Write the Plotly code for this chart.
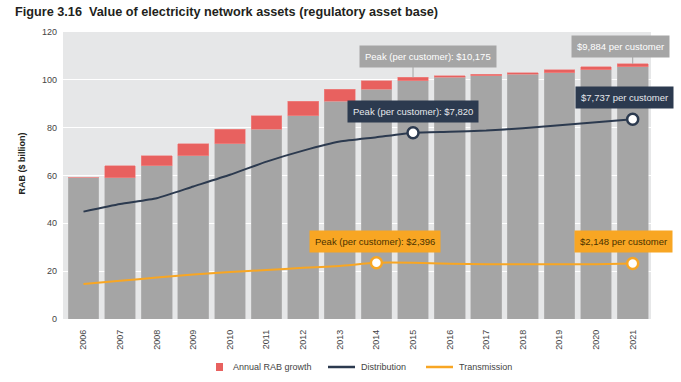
import plotly.graph_objects as go

years = ["2006", "2007", "2008", "2009", "2010", "2011", "2012", "2013",
         "2014", "2015", "2016", "2017", "2018", "2019", "2020", "2021"]
rab_base = [59.1, 59.1, 64.0, 68.2, 73.2, 79.4, 84.9, 91.1,
            96.1, 99.7, 101.0, 101.7, 102.4, 102.9, 104.2, 105.4]
rab_growth = [0.0, 4.9, 4.2, 5.0, 6.2, 5.5, 6.2, 5.0,
              3.6, 1.3, 0.7, 0.7, 0.5, 1.3, 1.2, 1.3]
distribution = [44.9, 48.1, 50.5, 55.4, 60.3, 65.8, 70.4, 74.2,
                76.0, 77.9, 78.3, 78.8, 79.8, 81.0, 82.3, 83.5]
transmission = [14.6, 16.0, 17.3, 18.6, 19.6, 20.5, 21.4, 22.2,
                23.5, 23.5, 23.1, 22.9, 22.9, 22.9, 22.9, 23.2]
y_ticks = [0, 20, 40, 60, 80, 100, 120]

rab_peak_year, rab_last_year = "2015", "2021"
dist_peak_year, dist_last_year = "2015", "2021"
trans_peak_year, trans_last_year = "2014", "2021"
rab_labels = ["Peak (per customer): $10,175", "$9,884 per customer"]
dist_labels = ["Peak (per customer): $7,820", "$7,737 per customer"]
trans_labels = ["Peak (per customer): $2,396", "$2,148 per customer"]
legend_names = ["Annual RAB growth", "Distribution", "Transmission"]

GREY = "#a5a5a5"
RED = "#e8615f"
NAVY = "#2c3a4f"
ORANGE = "#f8a623"
BG = "#e6e7e8"
FONT = "Liberation Sans, Arial, sans-serif"

W, H = 681, 382
ML, MR, MT, MB = 63, 30, 32, 63
PW, PH = W - ML - MR, H - MT - MB


def px(x):
    return (x - ML) / PW


def py(y):
    return (H - MB - y) / PH


fig = go.Figure()
fig.add_trace(go.Bar(x=years, y=rab_base, marker=dict(color=GREY, line=dict(color="#b8b8b8", width=0.6)),
                     showlegend=False, hoverinfo="skip"))
fig.add_trace(go.Bar(x=years, y=rab_growth, name=legend_names[0], showlegend=False,
                     marker=dict(color=RED, line=dict(color="#ee8a88", width=0.6))))
fig.add_trace(go.Scatter(x=years, y=distribution, mode="lines", name=legend_names[1], showlegend=False,
                         line=dict(color=NAVY, width=2, shape="spline", smoothing=0.5)))
fig.add_trace(go.Scatter(x=years, y=transmission, mode="lines", name=legend_names[2], showlegend=False,
                         line=dict(color=ORANGE, width=2, shape="spline", smoothing=0.5)))

di = [years.index(dist_peak_year), years.index(dist_last_year)]
ti = [years.index(trans_peak_year), years.index(trans_last_year)]
ri = [years.index(rab_peak_year), years.index(rab_last_year)]
fig.add_trace(go.Scatter(x=[years[i] for i in di], y=[distribution[i] for i in di], mode="markers",
                         marker=dict(size=11, color="white", line=dict(color=NAVY, width=2.5)),
                         showlegend=False))
fig.add_trace(go.Scatter(x=[years[i] for i in ti], y=[transmission[i] for i in ti], mode="markers",
                         marker=dict(size=11, color="white", line=dict(color=ORANGE, width=2.5)),
                         showlegend=False))

annotations = []
shapes = []
rab_offsets = [(15, 9.5), (-12, 6)]
for k, i in enumerate(ri):
    top = rab_base[i] + rab_growth[i]
    dx, gap = rab_offsets[k]
    annotations.append(dict(x=i, y=top, xref="x", yref="y", text=rab_labels[k],
                            showarrow=False, xanchor="center", yanchor="bottom",
                            xshift=dx, yshift=gap, bgcolor=GREY, borderpad=5,
                            font=dict(color="white", size=9.5, family=FONT)))
    shapes.append(dict(type="line", xref="x", yref="y", x0=i, x1=i, y0=top,
                       y1=top + (gap + 1) * 120 / PH, line=dict(color=GREY, width=1)))

dist_offsets = [(0, 10), (-8, 10)]
for k, i in enumerate(di):
    dx, gap = dist_offsets[k]
    annotations.append(dict(x=i, y=distribution[i], xref="x", yref="y", text=dist_labels[k],
                            showarrow=False, xanchor="center", yanchor="bottom",
                            xshift=dx, yshift=gap, bgcolor=NAVY, borderpad=5,
                            font=dict(color="#e6e8ec", size=9.5, family=FONT)))

trans_offsets = [(-1, 10), (-9, 11)]
for k, i in enumerate(ti):
    dx, gap = trans_offsets[k]
    annotations.append(dict(x=i, y=transmission[i], xref="x", yref="y", text=trans_labels[k],
                            showarrow=False, xanchor="center", yanchor="bottom",
                            xshift=dx, yshift=gap, bgcolor=ORANGE, borderpad=5,
                            font=dict(color="#4a3200", size=9.5, family=FONT)))

annotations.append(dict(x=px(13), y=py(12), xref="paper", yref="paper", xanchor="left", yanchor="middle",
                        text="<b>Figure 3.16  Value of electricity network assets (regulatory asset base)</b>",
                        showarrow=False, font=dict(size=12.7, color="#231f20", family=FONT)))
annotations.append(dict(x=px(21), y=py(163.5), xref="paper", yref="paper", textangle=-90,
                        text="<b>RAB ($ billion)</b>", showarrow=False, xanchor="center", yanchor="middle",
                        font=dict(size=9, color="#231f20", family=FONT)))

# manual legend
LY = 367
shapes.append(dict(type="rect", xref="paper", yref="paper", x0=px(216), x1=px(223), y0=py(371), y1=py(363),
                   fillcolor=RED, line=dict(width=0)))
shapes.append(dict(type="line", xref="paper", yref="paper", x0=px(328), x1=px(355), y0=py(LY), y1=py(LY),
                   line=dict(color=NAVY, width=2.5)))
shapes.append(dict(type="line", xref="paper", yref="paper", x0=px(426), x1=px(453), y0=py(LY), y1=py(LY),
                   line=dict(color=ORANGE, width=2.5)))
for name, lx in zip(legend_names, [231, 359, 457]):
    annotations.append(dict(x=px(lx), y=py(LY), xref="paper", yref="paper", xanchor="left", yanchor="middle",
                            text=name, showarrow=False, font=dict(size=9, color="#444444", family=FONT)))

fig.update_layout(
    width=W, height=H,
    margin=dict(l=ML, r=MR, t=MT, b=MB, autoexpand=False),
    paper_bgcolor="white", plot_bgcolor=BG,
    barmode="stack", bargap=0.16, showlegend=False,
    font=dict(family=FONT, size=9, color="#444444"),
    xaxis=dict(type="category", tickangle=-90, range=[-0.56, 15.5], showgrid=False, ticks="",
               ticklabelstandoff=8, tickfont=dict(size=9, color="#444444"), fixedrange=True),
    yaxis=dict(range=[0, 120], tickvals=y_ticks, showgrid=True, gridcolor="white", gridwidth=1.2,
               zeroline=False, ticks="", ticklabelstandoff=5,
               tickfont=dict(size=9, color="#444444"), fixedrange=True),
    annotations=annotations, shapes=shapes,
)

fig.write_html("out.html", config={"displayModeBar": False},
               post_script="document.body.style.margin='0';document.body.style.padding='0';")
